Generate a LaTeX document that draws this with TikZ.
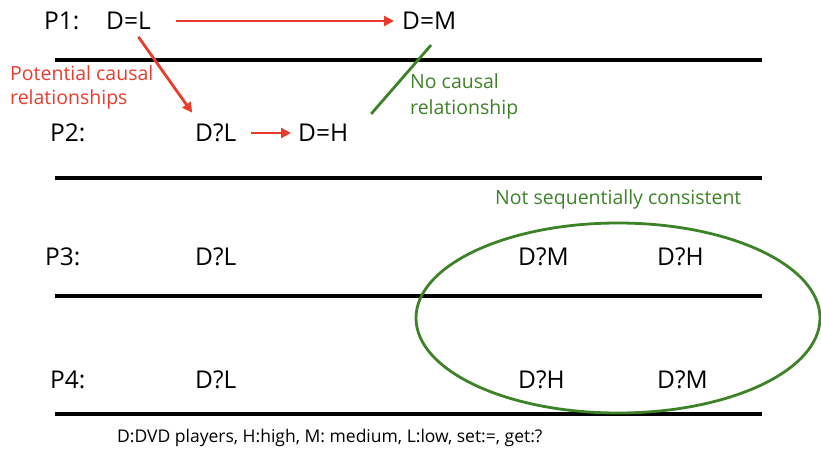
\documentclass[tikz,border=0pt]{standalone}
\usepackage{fontspec}
\setmainfont{Open Sans}
\usepackage{tikz}
\usetikzlibrary{positioning, shapes.geometric, arrows.meta}
\definecolor{causred}{RGB}{234,60,45}
\definecolor{nogreen}{RGB}{62,130,40}

\begin{document}
\begin{tikzpicture}[x=1pt, y=1pt, >={Triangle[length=10pt,width=10pt]}, every node/.style={inner sep=0pt, anchor=west, font=\fontsize{24.5}{28}\selectfont}]
    \useasboundingbox (0,0) rectangle (821,451);
    % process lines
    \foreach \yy in {391,273,155,37} \draw[line width=3.2pt] (55,\yy) -- (762,\yy);
    % P1
    \node (p1) at (44,430) {P1:};
    \node (dl1) at (106,430) {D=L};
    \node (dm1) at (402,430) {D=M};
    % P2
    \node (p2) at (50,318) {P2:};
    \node (dl2) at (195,318) {D?L};
    \node (dh2) at (298,318) {D=H};
    % P3
    \node (p3) at (45,194) {P3:};
    \node (dl3) at (195,194) {D?L};
    \node (dm3) at (518,194) {D?M};
    \node (dh3) at (657,194) {D?H};
    % P4
    \node (p4) at (50,71) {P4:};
    \node (dl4) at (195,71) {D?L};
    \node (dh4) at (518,71) {D?H};
    \node (dm4) at (657,71) {D?M};
    % annotations
    \node[text=causred, align=left, font=\fontsize{19.5}{24}\selectfont] (potential) at (10,364) {Potential causal\\relationships};
    \node[text=nogreen, align=left, font=\fontsize{19.5}{26}\selectfont] (nocausal) at (410,355) {No causal\\relationship};
    \node[text=nogreen, font=\fontsize{19.5}{22}\selectfont] (notseq) at (495,252) {Not sequentially consistent};
    \node[ellipse, draw=nogreen, line width=2.8pt, anchor=center, minimum width=404pt, minimum height=190pt] (incons) at (618,133) {};
    \node[font=\fontsize{17.5}{20}\selectfont] (legend) at (117,13) {D:DVD players, H:high, M: medium, L:low, set:=, get:?};
    % Arrows
    \draw[->, causred, line width=2.8pt, shorten <=25pt, shorten >=8pt] (dl1) -- (dm1);
    \draw[->, causred, line width=2.8pt, shorten <=8.5pt, shorten >=13.5pt] ([xshift=5pt]dl1.south) -- ([xshift=5pt]dl2.north west);
    \draw[->, causred, line width=2.8pt, shorten <=15pt, shorten >=7pt] (dl2) -- (dh2);
    \draw[nogreen, line width=2.8pt, shorten <=20pt, shorten >=13.5pt] ([xshift=15pt]dm1.south) -- ([xshift=14pt]dh2.north east);
\end{tikzpicture}
\end{document}
